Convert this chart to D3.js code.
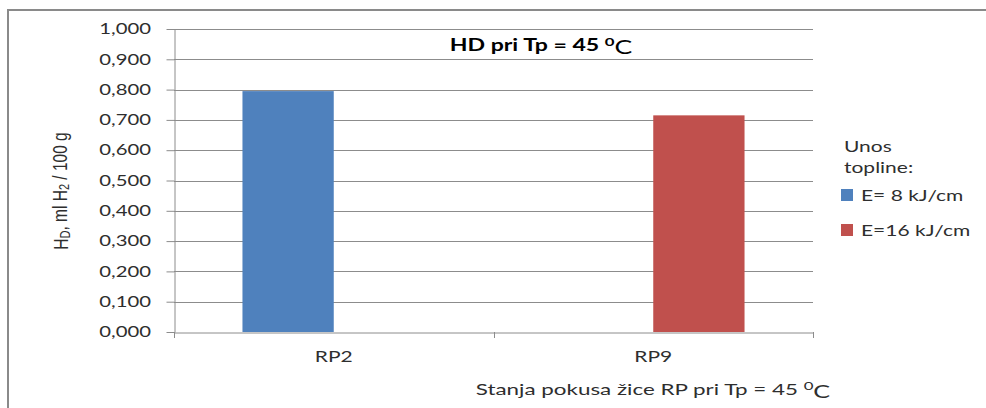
<!DOCTYPE html>
<html>
<head>
<meta charset="utf-8">
<script src="https://cdn.jsdelivr.net/npm/d3@7"></script>
<style>
  html, body { margin: 0; padding: 0; background: #fff; }
  svg { display: block; }
  text { font-family: Lato, "Open Sans", sans-serif; fill: #2e2e2e; font-weight: 400; }
</style>
</head>
<body>
<svg id="chart" width="986" height="408"></svg>
<script>
// Categories, series and axis ticks
const categories = ["RP2", "RP9"];
const seriesNames = ["E= 8 kJ/cm", "E=16 kJ/cm"];
const seriesE8 = [0.795, null];
const seriesE16 = [null, 0.715];
const yTicks = [0, 0.1, 0.2, 0.3, 0.4, 0.5, 0.6, 0.7, 0.8, 0.9, 1.0];
const colors = ["#4F81BD", "#C0504D"];

const series = [seriesE8, seriesE16];
const svg = d3.select("#chart");
const stretch = 1.4;   // wide glyph proportion used for all horizontal text

const plot = { left: 174, right: 813, top: 29, bottom: 332 };

// Outer chart frame
svg.append("rect")
  .attr("x", 8).attr("y", 10).attr("width", 1000).attr("height", 420)
  .attr("fill", "#fff").attr("stroke", "#8a8a8a").attr("stroke-width", 2);

const x = d3.scaleBand().domain(categories).range([plot.left, plot.right]).paddingInner(0).paddingOuter(0);
const inner = d3.scaleBand().domain(d3.range(series.length)).range([0, x.bandwidth()]).paddingInner(0).paddingOuter(0.75);
const y = d3.scaleLinear().domain([0, 1]).range([plot.bottom, plot.top]);

const fmt = v => d3.format(".3f")(v).replace(".", ",");

// Horizontal gridlines
svg.append("g").selectAll("line").data(yTicks.filter(t => t > 0)).join("line")
  .attr("x1", plot.left).attr("x2", plot.right)
  .attr("y1", d => Math.round(y(d)) + 0.5).attr("y2", d => Math.round(y(d)) + 0.5)
  .attr("stroke", "#8c8c8c").attr("stroke-width", 1);

// Bars
series.forEach((vals, si) => {
  svg.append("g").selectAll("rect")
    .data(categories.map((c, i) => ({ c, v: vals[i] })).filter(d => d.v != null))
    .join("rect")
    .attr("x", d => x(d.c) + inner(si))
    .attr("width", inner.bandwidth())
    .attr("y", d => y(d.v))
    .attr("height", d => y(0) - y(d.v))
    .attr("fill", colors[si]);
});

// Y axis
const yAxis = svg.append("g").attr("transform", `translate(${plot.left + 0.5},0)`)
  .call(d3.axisLeft(y).tickValues(yTicks).tickFormat(() => "").tickSize(8).tickSizeOuter(0));
yAxis.select(".domain").attr("stroke", "#8c8c8c");
yAxis.selectAll(".tick line").attr("stroke", "#8c8c8c");

// Y tick labels (stretched horizontally)
svg.append("g").selectAll("text").data(yTicks).join("text")
  .attr("transform", d => `translate(151,${y(d)}) scale(${stretch},1)`)
  .attr("dy", "0.36em")
  .attr("text-anchor", "end")
  .style("font-size", "14.5px")
  .text(d => fmt(d));

// X axis
const xAxis = svg.append("g").attr("transform", `translate(0,${plot.bottom + 0.5})`)
  .call(d3.axisBottom(x).tickFormat(() => "").tickSize(0).tickSizeOuter(0));
xAxis.select(".domain").attr("stroke", "#8c8c8c");
xAxis.selectAll(".tick").remove();
const boundaries = [plot.left].concat(categories.map(c => x(c) + x.bandwidth()));
svg.append("g").selectAll("line").data(boundaries).join("line")
  .attr("x1", d => Math.round(d) + 0.5).attr("x2", d => Math.round(d) + 0.5)
  .attr("y1", plot.bottom).attr("y2", plot.bottom + 6)
  .attr("stroke", "#8c8c8c");

svg.append("g").selectAll("text").data(categories).join("text")
  .attr("transform", d => `translate(${x(d) + x.bandwidth() / 2},362) scale(${stretch},1)`)
  .attr("text-anchor", "middle")
  .style("font-size", "15px")
  .text(d => d);

// Chart title
const title = svg.append("text")
  .attr("transform", `translate(541,51) scale(${stretch},1)`)
  .attr("text-anchor", "middle")
  .style("font-size", "16.5px").style("font-weight", "bold").style("fill", "#000");
title.append("tspan").text("HD pri Tp = 45 ");
title.append("tspan").attr("dy", "-0.45em").style("font-size", "12px").text("0");
title.append("tspan").attr("dy", "0.45em").style("font-size", "19px").style("font-weight", "normal").text("C");

// X axis title
const xt = svg.append("text")
  .attr("transform", `translate(653,395) scale(${stretch},1)`)
  .attr("text-anchor", "middle")
  .style("font-size", "16px");
xt.append("tspan").text("Stanja pokusa  žice RP pri Tp = 45 ");
xt.append("tspan").attr("dy", "-0.45em").style("font-size", "12px").text("0");
xt.append("tspan").attr("dy", "0.45em").style("font-size", "18px").text("C");

// Y axis title
const yt = svg.append("text")
  .attr("transform", `translate(61,191) scale(1.3,1) rotate(-90)`)
  .attr("text-anchor", "middle")
  .attr("dy", "0.35em")
  .style("font-family", "'Liberation Sans Narrow', 'Liberation Sans', sans-serif")
  .style("font-size", "15.5px");
yt.append("tspan").text("H");
yt.append("tspan").attr("dy", "0.12em").style("font-size", "11px").text("D");
yt.append("tspan").attr("dy", "-0.12em").text(", ml H");
yt.append("tspan").attr("dy", "0.12em").style("font-size", "11px").text("2");
yt.append("tspan").attr("dy", "-0.12em").text(" / 100 g");

// Legend
const legend = svg.append("g");
legend.append("text").attr("transform", `translate(844,152) scale(${stretch},1)`).style("font-size", "15px").text("Unos");
legend.append("text").attr("transform", `translate(844,173) scale(${stretch},1)`).style("font-size", "15px").text("topline:");
const legendY = [189, 224];
seriesNames.forEach((name, i) => {
  legend.append("rect").attr("x", 841).attr("y", legendY[i]).attr("width", 12).attr("height", 12).attr("fill", colors[i]);
  legend.append("text").attr("transform", `translate(861,${legendY[i] + 12}) scale(${stretch},1)`)
    .style("font-size", "15px").text(name);
});
</script>
</body>
</html>
